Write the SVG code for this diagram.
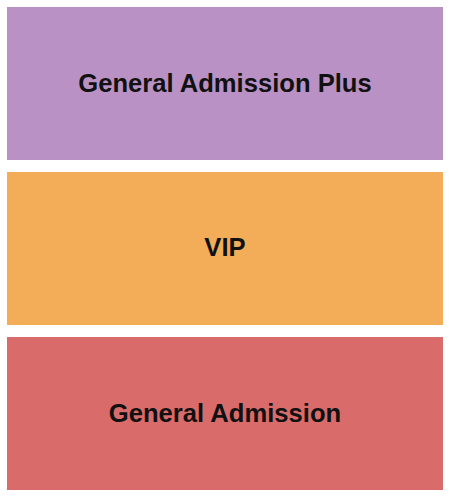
<svg xmlns="http://www.w3.org/2000/svg" width="450" height="497" viewBox="0 0 450 497">
<style>
.lbl{font-family:"Liberation Sans",Arial,sans-serif;font-weight:bold;font-size:25.6px;fill:#111;text-anchor:middle}
</style>
<rect width="450" height="497" fill="#fff"/>
<g id="ga-plus"><rect x="7" y="7" width="436" height="153" fill="#BA91C4"/><text class="lbl" x="225" y="92">General Admission Plus</text></g>
<g id="vip"><rect x="7" y="172" width="436" height="153" fill="#F3AD58"/><text class="lbl" x="225" y="256">VIP</text></g>
<g id="ga"><rect x="7" y="337" width="436" height="153" fill="#D96B6B"/><text class="lbl" x="225" y="422">General Admission</text></g>
<g id="connectors"/>
</svg>
